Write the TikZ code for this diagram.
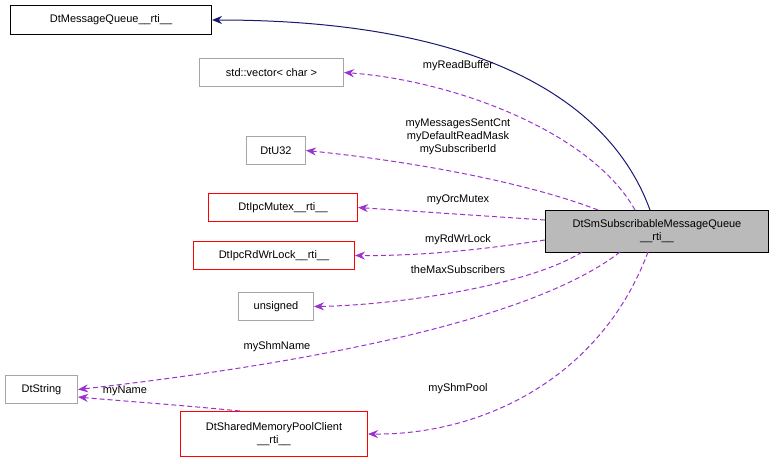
\documentclass[tikz,border=0pt]{standalone}
\usepackage{fontspec}
\setmainfont{Liberation Sans}
\usetikzlibrary{arrows.meta}
\definecolor{dp}{HTML}{9A32CD}
\definecolor{nv}{HTML}{191970}
\begin{document}
\begin{tikzpicture}[x=1pt,y=-1pt,font=\fontsize{11}{13}\selectfont,line width=1pt,
  box/.style={draw,rectangle,inner sep=0pt,align=center,anchor=north west},
  gray/.style={box,draw=black!35},
  red/.style={box,draw=red},
  dep/.style={draw=dp,dashed,dash pattern=on 5pt off 3pt,-{Stealth[length=10pt,width=8pt]}},
  inh/.style={draw=nv,-{Stealth[length=10pt,width=8pt]}},
  lbl/.style={align=center,inner sep=1pt}]
\useasboundingbox (0,0) rectangle (776,463);
\node[box,draw=black,minimum width=201pt,minimum height=29pt] (mq) at (10,5) {DtMessageQueue\_\_rti\_\_};
\node[gray,minimum width=144pt,minimum height=28pt] (vec) at (199,58) {std::vector\textless{} char \textgreater};
\node[gray,minimum width=59pt,minimum height=28pt] (u32) at (246,136) {DtU32};
\node[red,minimum width=149pt,minimum height=28pt] (mtx) at (208,193) {DtIpcMutex\_\_rti\_\_};
\node[red,minimum width=161pt,minimum height=28pt] (rw) at (193,241) {DtIpcRdWrLock\_\_rti\_\_};
\node[gray,minimum width=75pt,minimum height=28pt] (uns) at (238,292) {unsigned};
\node[gray,minimum width=72pt,minimum height=28pt] (str) at (5,375) {DtString};
\node[red,minimum width=187pt,minimum height=45pt] (pool) at (180,411) {DtSharedMemoryPoolClient\\\_\_rti\_\_};
\node[box,draw=black,fill=black!27,minimum width=223pt,minimum height=42pt] (main) at (545,210) {DtSmSubscribableMessageQueue\\\_\_rti\_\_};
\coordinate (m1) at (650,210);
\draw[inh] (m1) .. controls (610,100) and (480,20) .. (mq.east);
\draw[dep] (635,210) .. controls (590,130) and (450,80) .. (vec.east);
\node[lbl] at (458,66) {myReadBuffer};
\draw[dep] (598,210) .. controls (520,180) and (400,160) .. (u32.east);
\node[lbl] at (458,137) {myMessagesSentCnt\\myDefaultReadMask\\mySubscriberId};
\draw[dep] (main.west|-0,220) -- (mtx.east);
\node[lbl] at (458,200) {myOrcMutex};
\draw[dep] (main.west|-0,240) .. controls (480,250) and (420,256) .. (rw.east);
\node[lbl] at (458,240) {myRdWrLock};
\draw[dep] (582,252) .. controls (530,285) and (400,305) .. (uns.east);
\node[lbl] at (458,270) {theMaxSubscribers};
\draw[dep] (620,252) .. controls (520,330) and (250,370) .. (str.east);
\node[lbl] at (277,347) {myShmName};
\draw[dep] (648,252) .. controls (600,380) and (480,435) .. (pool.east);
\node[lbl] at (458,389) {myShmPool};
\draw[dep] (240,411) .. controls (180,405) and (110,400) .. (str.east|-0,397);
\node[lbl] at (125,391) {myName};
\end{tikzpicture}
\end{document}
